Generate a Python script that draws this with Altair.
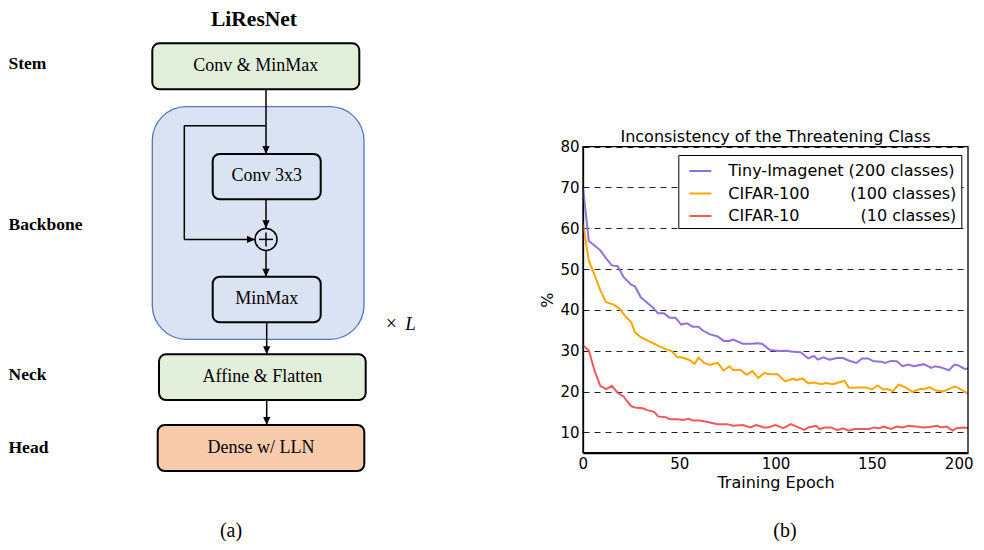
import altair as alt
import pandas as pd

NB = "\u00a0"

# ---------------- panel (b): line chart data ----------------
series_names = [
    "Tiny-Imagenet (200 classes)",
    "CIFAR-100" + NB * 8 + "(100 classes)",
    "CIFAR-10" + NB * 12 + "(10 classes)",
]
series_colors = ["#9370DB", "#FFA500", "#F0595B"]

tiny_epoch = [0, 3, 6, 9, 12, 15, 18, 21, 25, 27, 30, 33, 36, 39, 42, 45, 48, 51, 54, 57,
              60, 62, 66, 70, 73, 76, 78, 83, 88, 90, 93, 97, 102, 106, 108, 113, 117, 120, 122, 125,
              128, 132, 135, 138, 142, 145, 148, 151, 155, 157, 160, 163, 166, 169, 172, 177, 181, 183, 186, 190,
              193, 195, 198, 200]
tiny_val = [70, 56.9, 55.8, 54.6, 52.6, 50.9, 50.7, 48.1, 46.2, 45.8, 43.1, 41.9, 40.7, 39.2, 39.2, 38.1, 38.1, 36.4, 36.7, 35.9,
            35.9, 35.0, 34.0, 33.5, 32.4, 32.4, 32.7, 31.7, 31.7, 31.8, 31.7, 30.2, 29.9, 30.0, 29.8, 29.6, 28.1, 28.7, 27.8, 28.4,
            27.8, 28.2, 28.2, 27.6, 27.0, 28.1, 28.1, 27.4, 27.3, 27.0, 27.5, 27.4, 26.2, 26.6, 26.2, 26.7, 25.8, 26.2, 25.9, 25.2,
            26.6, 26.4, 25.6, 25.6]

c100_epoch = [0, 3, 6, 9, 12, 16, 19, 22, 25, 27, 30, 33, 37, 40, 44, 46, 49, 51, 55, 58,
              60, 63, 66, 68, 70, 73, 76, 78, 82, 85, 88, 91, 94, 98, 101, 105, 109, 111, 114, 117,
              120, 124, 126, 130, 134, 136, 138, 141, 143, 147, 150, 153, 156, 158, 161, 164, 168, 171, 175, 178,
              180, 183, 187, 189, 193, 195, 200]
c100_val = [61.2, 52.1, 48.5, 44.8, 41.9, 41.3, 40.3, 38.4, 37.0, 34.5, 33.3, 32.6, 31.7, 31.0, 30.2, 29.9, 28.4, 28.4, 27.8, 26.8,
            28.3, 27.0, 26.5, 26.8, 27.0, 25.1, 26.2, 25.3, 25.3, 24.1, 25.0, 23.3, 24.5, 24.2, 24.2, 22.5, 23.1, 22.8, 23.2, 22.0,
            22.2, 21.8, 22.1, 21.8, 22.4, 22.6, 21.0, 20.9, 21.0, 21.0, 20.5, 21.5, 20.5, 20.6, 20.1, 21.7, 20.9, 19.9, 20.6, 20.7,
            21.1, 20.3, 20.0, 20.4, 21.2, 20.9, 19.5]

c10_epoch = [0, 3, 6, 9, 12, 15, 18, 21, 25, 27, 31, 33, 37, 39, 43, 45, 49, 52, 55, 57,
             61, 64, 70, 75, 78, 83, 87, 90, 94, 96, 100, 104, 108, 111, 115, 117, 121, 123, 126, 129,
             132, 135, 138, 141, 146, 149, 151, 154, 156, 160, 163, 166, 169, 173, 177, 180, 184, 186, 189, 192,
             194, 198, 200]
c10_val = [31.3, 30.1, 25.1, 21.4, 20.6, 21.4, 19.7, 18.8, 16.4, 16.1, 15.9, 15.5, 15.0, 13.9, 13.7, 13.2, 13.2, 13.0, 13.3, 12.9,
           12.9, 12.6, 12.0, 12.0, 11.6, 11.8, 11.2, 11.8, 11.2, 11.2, 11.8, 11.0, 12.0, 11.4, 10.6, 11.2, 11.6, 10.8, 11.2, 11.2,
           10.5, 11.0, 10.4, 10.8, 10.8, 10.8, 11.2, 11.0, 11.4, 10.8, 11.4, 11.2, 11.6, 11.4, 11.2, 11.3, 11.6, 11.2, 11.4, 10.4,
           11.0, 11.2, 11.0]

x_ticks = [0, 50, 100, 150, 200]
y_ticks = [10, 20, 30, 40, 50, 60, 70, 80]
x_domain = [0, 200]
y_domain = [5, 80]
chart_title = "Inconsistency of the Threatening Class"
x_title = "Training Epoch"
y_title = "%"

# ---------------- panel (a): diagram content ----------------
diagram_title = "LiResNet"
stage_labels = ["Stem", "Backbone", "Neck", "Head"]
block_labels = ["Conv & MinMax", "Conv 3x3", "MinMax", "Affine & Flatten", "Dense w/ LLN"]
block_fills = ["#E2EFDA", "#DAE3F3", "#DAE3F3", "#E2EFDA", "#F8CBAD"]

# layout (page pixel positions of the diagram)
stage_y = [69, 230, 380, 453]
block_x0 = [152.3, 212.7, 212.7, 159.0, 157.7]
block_x1 = [359.3, 320.7, 320.7, 365.7, 364.3]
block_y0 = [43.3, 154.0, 276.7, 354.3, 425.0]
block_y1 = [89.3, 199.3, 322.3, 400.0, 471.0]
container = dict(x0=152.3, x1=364.0, y0=106.7, y1=339.3)
seg_x0 = [266, 266, 184.3, 184.3, 266, 266, 266.7, 266.7]
seg_y0 = [89.3, 125.7, 125.7, 239.4, 199.3, 250.6, 322.3, 400.0]
seg_x1 = [266, 184.3, 184.3, 255.0, 266, 266, 266.7, 266.7]
seg_y1 = [154.0, 125.7, 239.4, 239.4, 228.2, 276.7, 354.3, 425.0]
down_tips_x = [266, 266, 266, 266.7, 266.7]
down_tips_y = [154.0, 228.2, 276.7, 354.3, 425.0]
right_tip = (255.0, 239.4)
plus_center = (266, 239.4)

LW, LH = 420, 530
sx = alt.Scale(domain=[8, 8 + LW], nice=False, zero=False)
sy = alt.Scale(domain=[8, 8 + LH], nice=False, zero=False, reverse=True)
SERIF = "Liberation Serif"


def X(f):
    return alt.X(f, type="quantitative", scale=sx, axis=None)


def Y(f):
    return alt.Y(f, type="quantitative", scale=sy, axis=None)


cont_df = pd.DataFrame([container])
blocks_df = pd.DataFrame({"label": block_labels, "fill": block_fills, "x0": block_x0,
                          "x1": block_x1, "y0": block_y0, "y1": block_y1})
blocks_df["cx"] = (blocks_df.x0 + blocks_df.x1) / 2
blocks_df["cy"] = (blocks_df.y0 + blocks_df.y1) / 2 - 0.5
segs_df = pd.DataFrame({"x0": seg_x0, "y0": seg_y0, "x1": seg_x1, "y1": seg_y1})
down_df = pd.DataFrame({"x": down_tips_x, "y": down_tips_y})
right_df = pd.DataFrame({"x": [right_tip[0]], "y": [right_tip[1]]})
pc = plus_center
plus_df = pd.DataFrame({"x0": [pc[0] - 7, pc[0]], "x1": [pc[0] + 7, pc[0]],
                        "y0": [pc[1], pc[1] - 7], "y1": [pc[1], pc[1] + 7]})
circle_df = pd.DataFrame({"x": [pc[0]], "y": [pc[1]]})
stage_df = pd.DataFrame({"label": stage_labels, "x": [8.5] * 4, "y": stage_y})

l_cont = alt.Chart(cont_df).mark_rect(cornerRadius=34, fill="#DAE3F3", stroke="#5676B5",
                                      strokeWidth=1.3).encode(x=X("x0"), x2="x1", y=Y("y0"), y2="y1")
l_blocks = alt.Chart(blocks_df).mark_rect(cornerRadius=7, stroke="black", strokeWidth=2).encode(
    x=X("x0"), x2="x1", y=Y("y0"), y2="y1", fill=alt.Fill("fill:N", scale=None))
l_segs = alt.Chart(segs_df).mark_rule(color="black", strokeWidth=1.5).encode(
    x=X("x0"), x2="x1", y=Y("y0"), y2="y1")
l_down = alt.Chart(down_df).mark_point(shape="M0,0L-0.9,-2L0.9,-2Z", size=64, filled=True,
                                       color="black", opacity=1).encode(x=X("x"), y=Y("y"))
l_right = alt.Chart(right_df).mark_point(shape="M0,0L-2,-0.9L-2,0.9Z", size=64, filled=True,
                                         color="black", opacity=1).encode(x=X("x"), y=Y("y"))
l_circle = alt.Chart(circle_df).mark_point(shape="circle", size=484, filled=True, fill="#DAE3F3",
                                           stroke="black", strokeWidth=1.5, opacity=1,
                                           fillOpacity=1).encode(x=X("x"), y=Y("y"))
l_plus = alt.Chart(plus_df).mark_rule(color="black", strokeWidth=1.5).encode(
    x=X("x0"), x2="x1", y=Y("y0"), y2="y1")
l_btext = alt.Chart(blocks_df).mark_text(font=SERIF, fontSize=18, color="black",
                                         baseline="middle", align="center").encode(
    x=X("cx"), y=Y("cy"), text="label:N")
l_stage = alt.Chart(stage_df).mark_text(font=SERIF, fontSize=17.5, fontWeight="bold", color="black",
                                        baseline="alphabetic", align="left").encode(
    x=X("x"), y=Y("y"), text="label:N")
l_title = alt.Chart(pd.DataFrame({"t": [diagram_title], "x": [254], "y": [8.5]})).mark_text(
    font=SERIF, fontSize=21.5, fontWeight="bold", color="black", baseline="top", align="center").encode(
    x=X("x"), y=Y("y"), text="t:N")
l_times = alt.Chart(pd.DataFrame({"t": ["×"], "x": [391.5], "y": [323.5]})).mark_text(
    font=SERIF, fontSize=20, color="black", baseline="middle", align="center").encode(
    x=X("x"), y=Y("y"), text="t:N")
l_L = alt.Chart(pd.DataFrame({"t": ["L"], "x": [410.5], "y": [323.5]})).mark_text(
    font=SERIF, fontSize=19, fontStyle="italic", color="black", baseline="middle", align="center").encode(
    x=X("x"), y=Y("y"), text="t:N")
l_a = alt.Chart(pd.DataFrame({"t": ["(a)"], "x": [231], "y": [531]})).mark_text(
    font=SERIF, fontSize=20, color="black", baseline="middle", align="center").encode(
    x=X("x"), y=Y("y"), text="t:N")

left = alt.layer(l_cont, l_blocks, l_segs, l_down, l_right, l_circle, l_plus,
                 l_btext, l_stage, l_title, l_times, l_L, l_a).properties(width=LW, height=LH)

# ---------------- panel (b) chart ----------------
RW, RH = 385, 445
plot_top, plot_bottom = 138.7, 444.7
SANS = "DejaVu Sans"

frames = []
for name, ep, val in zip(series_names, [tiny_epoch, c100_epoch, c10_epoch], [tiny_val, c100_val, c10_val]):
    frames.append(pd.DataFrame({"epoch": ep, "value": val, "series": name}))
lines_df = pd.concat(frames, ignore_index=True)

xsc = alt.Scale(domain=x_domain, nice=False, zero=False)
ysc = alt.Scale(domain=y_domain, range=[plot_bottom, plot_top], nice=False, zero=False)

r_lines = alt.Chart(lines_df).mark_line(strokeWidth=2).encode(
    x=alt.X("epoch:Q", scale=xsc, axis=alt.Axis(
        values=x_ticks, title=x_title, grid=False, ticks=False, labelFontSize=15, titleFontSize=16,
        labelFont=SANS, titleFont=SANS, titleFontWeight="normal", labelColor="black", titleColor="black",
        domainColor="black", domainWidth=1.3, labelPadding=3, titlePadding=3,
        labelFlush=True, labelFlushOffset=5)),
    y=alt.Y("value:Q", scale=ysc, axis=alt.Axis(
        values=y_ticks, title=y_title, grid=True, gridDash=[6, 5], gridColor="#222", gridWidth=1,
        ticks=False, labelFontSize=15, titleFontSize=16, labelFont=SANS, titleFont=SANS,
        titleFontWeight="normal", labelColor="black", titleColor="black", domainColor="black",
        domainWidth=1.3, labelPadding=4, titlePadding=4, labelFlush=False)),
    color=alt.Color("series:N", scale=alt.Scale(domain=series_names, range=series_colors),
                    legend=alt.Legend(title=None, orient="none", legendX=670.3, legendY=147,
                                      strokeColor="black", fillColor="white", padding=4,
                                      symbolType="stroke", symbolSize=484, symbolStrokeWidth=2,
                                      symbolOffset=6, labelOffset=16, labelFontSize=16, labelFont=SANS,
                                      labelColor="black", rowPadding=2.5, cornerRadius=0, labelLimit=400)),
)
r_frame = alt.Chart(pd.DataFrame({"a": [0]})).mark_rect(fillOpacity=0, stroke="black", strokeWidth=1.3).encode(
    x=alt.datum(x_domain[0]), x2=alt.datum(x_domain[1]), y=alt.datum(y_domain[0]), y2=alt.datum(y_domain[1]))
r_title = alt.Chart(pd.DataFrame({"t": [chart_title]})).mark_text(
    font=SANS, fontSize=16, color="black", align="center", baseline="alphabetic").encode(
    x=alt.value(RW / 2), y=alt.value(134), text="t:N")
r_b = alt.Chart(pd.DataFrame({"t": ["(b)"]})).mark_text(
    font=SERIF, fontSize=20, color="black", align="center", baseline="middle").encode(
    x=alt.value(202), y=alt.value(523), text="t:N")

right = alt.layer(r_lines, r_frame, r_title, r_b).properties(width=RW, height=RH)

chart = alt.hconcat(left, right, spacing=155).properties(
    padding=0, bounds="flush").configure_view(stroke=None)

chart.save("out.html", embed_options={"renderer": "svg", "actions": False})
